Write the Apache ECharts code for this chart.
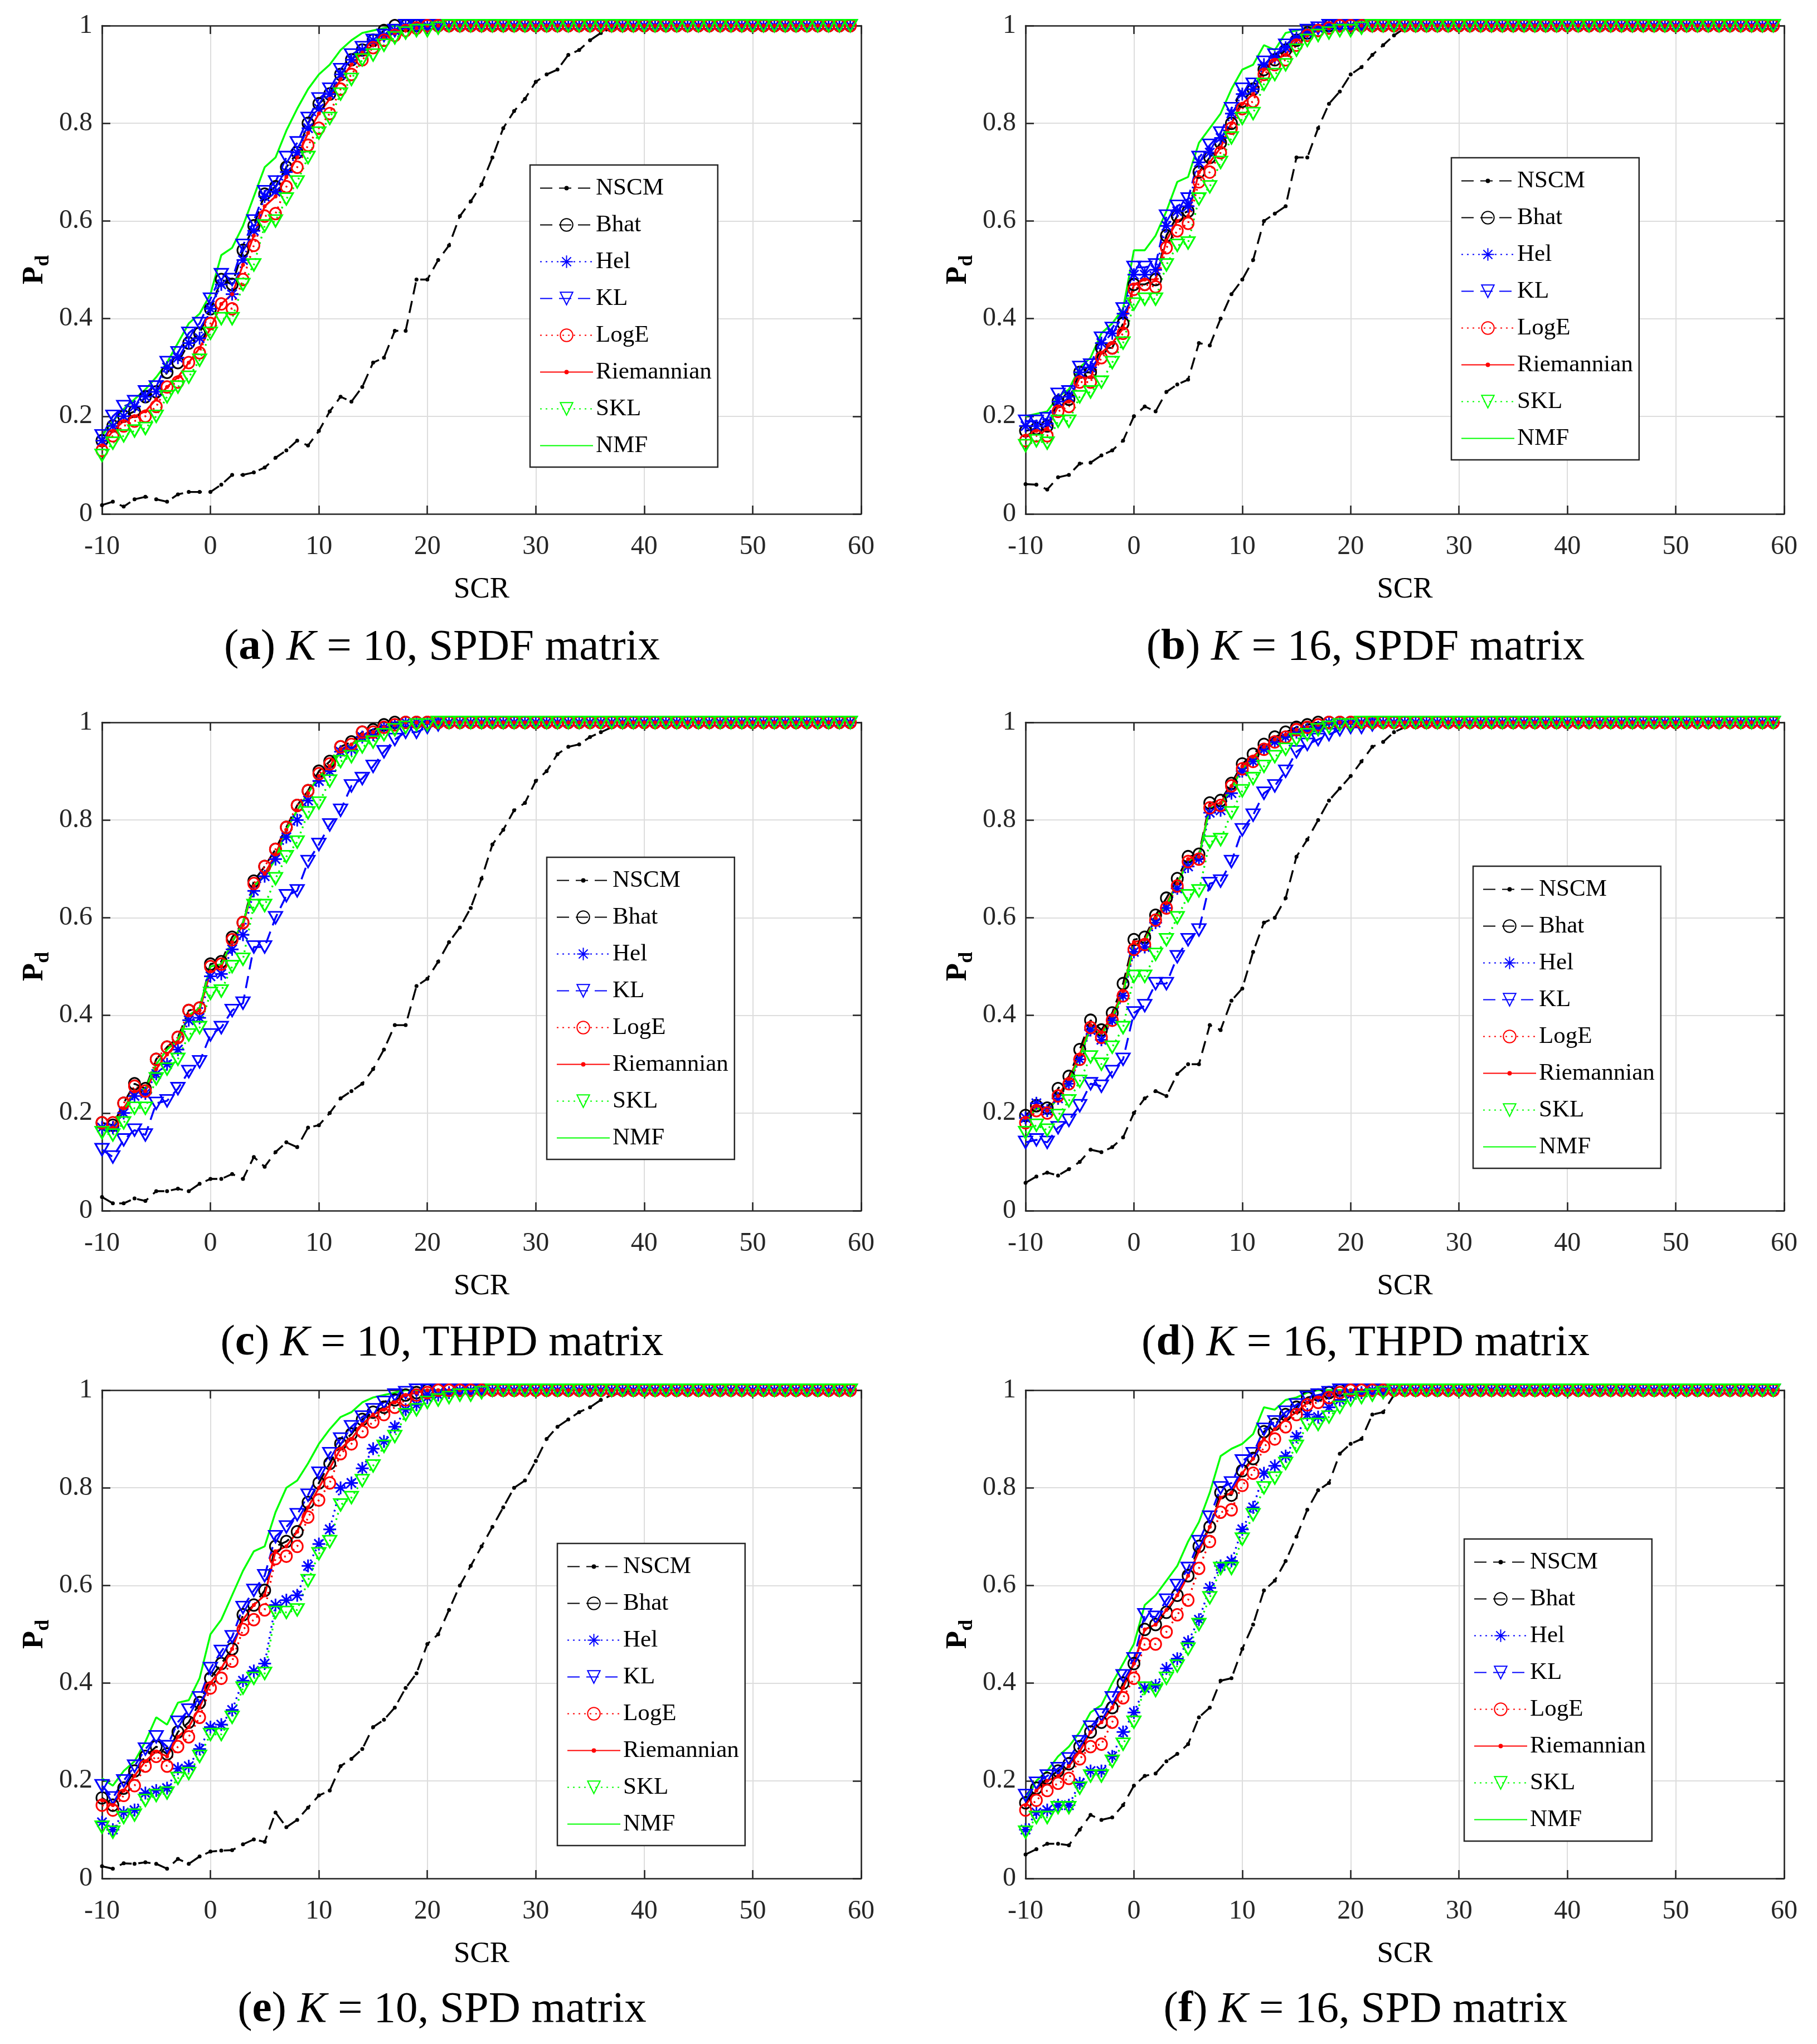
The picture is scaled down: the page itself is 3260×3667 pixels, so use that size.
<!DOCTYPE html>
<html>
<head>
<meta charset="utf-8">
<script src="https://cdn.jsdelivr.net/npm/echarts@6/dist/echarts.min.js"></script>
<style>
  html, body { margin: 0; padding: 0; background: #fff; }
  #chart { width: 3260px; height: 3667px; }
</style>
</head>
<body>
<div id="chart"></div>
<script>
// SCR axis (dB), one sample per integer
const scr = [-10,-9,-8,-7,-6,-5,-4,-3,-2,-1,0,1,2,3,4,5,6,7,8,9,10,11,12,13,14,15,16,17,18,19,20,21,22,23,24,25,26,27,28,29,30,31,32,33,34,35,36,37,38,39,40,41,42,43,44,45,46,47,48,49,50,51,52,53,54,55,56,57,58,59];
const xTicks = [-10, 0, 10, 20, 30, 40, 50, 60];
const yTicks = [0, 0.2, 0.4, 0.6, 0.8, 1];
const methods = ['NSCM', 'Bhat', 'Hel', 'KL', 'LogE', 'Riemannian', 'SKL', 'NMF'];

// (a) K = 10, SPDF
const nscmA = [0.018,0.025,0.015,0.03,0.035,0.03,0.025,0.04,0.045,0.045, 0.045,0.06,0.08,0.08,0.085,0.095,0.115,0.13,0.15,0.14, 0.17,0.21,0.24,0.23,0.26,0.31,0.32,0.375,0.375,0.48, 0.48,0.52,0.55,0.61,0.64,0.675,0.73,0.79,0.825,0.85, 0.885,0.9,0.91,0.94,0.95,0.97,0.985,0.995,1,1, 1,1,1,1,1,1,1,1,1,1, 1,1,1,1,1,1,1,1,1,1];
const bhatA = [0.15,0.18,0.2,0.21,0.24,0.25,0.29,0.31,0.35,0.37, 0.42,0.48,0.47,0.54,0.59,0.655,0.67,0.71,0.74,0.8, 0.84,0.86,0.9,0.93,0.95,0.97,0.99,1,1,1, 1,1,1,1,1,1,1,1,1,1, 1,1,1,1,1,1,1,1,1,1, 1,1,1,1,1,1,1,1,1,1, 1,1,1,1,1,1,1,1,1,1];
const helA = [0.15,0.18,0.2,0.22,0.24,0.25,0.3,0.32,0.35,0.36, 0.42,0.47,0.45,0.52,0.58,0.65,0.66,0.7,0.74,0.79, 0.83,0.86,0.9,0.93,0.95,0.97,0.98,0.99,1,1, 1,1,1,1,1,1,1,1,1,1, 1,1,1,1,1,1,1,1,1,1, 1,1,1,1,1,1,1,1,1,1, 1,1,1,1,1,1,1,1,1,1];
const klA = [0.16,0.2,0.22,0.23,0.25,0.26,0.31,0.33,0.37,0.39, 0.44,0.49,0.48,0.55,0.6,0.66,0.68,0.73,0.76,0.81, 0.85,0.87,0.91,0.94,0.955,0.97,0.98,0.99,1,1, 1,1,1,1,1,1,1,1,1,1, 1,1,1,1,1,1,1,1,1,1, 1,1,1,1,1,1,1,1,1,1, 1,1,1,1,1,1,1,1,1,1];
const logeA = [0.13,0.16,0.18,0.19,0.2,0.22,0.26,0.27,0.31,0.33, 0.39,0.43,0.42,0.48,0.55,0.61,0.615,0.67,0.71,0.755, 0.79,0.82,0.87,0.9,0.93,0.955,0.97,0.98,0.99,0.995, 1,1,1,1,1,1,1,1,1,1, 1,1,1,1,1,1,1,1,1,1, 1,1,1,1,1,1,1,1,1,1, 1,1,1,1,1,1,1,1,1,1];
const riemA = [0.14,0.17,0.19,0.2,0.21,0.235,0.26,0.28,0.31,0.34, 0.38,0.43,0.45,0.51,0.57,0.63,0.65,0.69,0.73,0.78, 0.82,0.85,0.89,0.92,0.945,0.96,0.975,0.985,0.99,0.995, 1,1,1,1,1,1,1,1,1,1, 1,1,1,1,1,1,1,1,1,1, 1,1,1,1,1,1,1,1,1,1, 1,1,1,1,1,1,1,1,1,1];
const sklA = [0.12,0.145,0.16,0.17,0.175,0.2,0.24,0.26,0.28,0.315, 0.37,0.4,0.4,0.47,0.51,0.59,0.6,0.645,0.68,0.73, 0.78,0.81,0.86,0.89,0.93,0.94,0.96,0.975,0.985,0.99, 0.99,0.995,1,1,1,1,1,1,1,1, 1,1,1,1,1,1,1,1,1,1, 1,1,1,1,1,1,1,1,1,1, 1,1,1,1,1,1,1,1,1,1];
const nmfA = [0.16,0.19,0.215,0.235,0.255,0.28,0.31,0.35,0.39,0.41, 0.45,0.53,0.545,0.59,0.65,0.71,0.73,0.785,0.83,0.87, 0.9,0.92,0.95,0.97,0.985,0.99,0.995,1,1,1, 1,1,1,1,1,1,1,1,1,1, 1,1,1,1,1,1,1,1,1,1, 1,1,1,1,1,1,1,1,1,1, 1,1,1,1,1,1,1,1,1,1];

// (b) K = 16, SPDF
const nscmB = [0.061,0.06,0.05,0.075,0.08,0.103,0.105,0.12,0.13,0.15, 0.2,0.22,0.21,0.25,0.265,0.275,0.35,0.345,0.4,0.45, 0.48,0.52,0.6,0.615,0.63,0.73,0.73,0.79,0.84,0.865, 0.9,0.915,0.94,0.96,0.98,0.995,1,1,1,1, 1,1,1,1,1,1,1,1,1,1, 1,1,1,1,1,1,1,1,1,1, 1,1,1,1,1,1,1,1,1,1];
const bhatB = [0.17,0.175,0.18,0.23,0.235,0.29,0.29,0.34,0.34,0.39, 0.47,0.47,0.48,0.57,0.61,0.62,0.7,0.73,0.76,0.8, 0.845,0.87,0.91,0.93,0.95,0.97,0.985,0.99,1,1, 1,1,1,1,1,1,1,1,1,1, 1,1,1,1,1,1,1,1,1,1, 1,1,1,1,1,1,1,1,1,1, 1,1,1,1,1,1,1,1,1,1];
const helB = [0.18,0.18,0.185,0.23,0.24,0.29,0.3,0.35,0.37,0.41, 0.49,0.49,0.5,0.59,0.62,0.63,0.72,0.74,0.77,0.82, 0.86,0.87,0.92,0.935,0.955,0.975,0.985,0.995,1,1, 1,1,1,1,1,1,1,1,1,1, 1,1,1,1,1,1,1,1,1,1, 1,1,1,1,1,1,1,1,1,1, 1,1,1,1,1,1,1,1,1,1];
const klB = [0.19,0.19,0.195,0.245,0.25,0.3,0.305,0.36,0.38,0.42, 0.505,0.505,0.51,0.61,0.63,0.645,0.73,0.755,0.78,0.83, 0.87,0.88,0.925,0.94,0.96,0.98,0.99,0.995,1,1, 1,1,1,1,1,1,1,1,1,1, 1,1,1,1,1,1,1,1,1,1, 1,1,1,1,1,1,1,1,1,1, 1,1,1,1,1,1,1,1,1,1];
const logeB = [0.15,0.16,0.16,0.21,0.22,0.27,0.27,0.32,0.34,0.37, 0.46,0.47,0.465,0.545,0.58,0.595,0.68,0.7,0.74,0.79, 0.83,0.845,0.9,0.92,0.93,0.96,0.98,0.99,0.995,1, 1,1,1,1,1,1,1,1,1,1, 1,1,1,1,1,1,1,1,1,1, 1,1,1,1,1,1,1,1,1,1, 1,1,1,1,1,1,1,1,1,1];
const riemB = [0.16,0.17,0.175,0.22,0.23,0.28,0.28,0.33,0.35,0.38, 0.47,0.48,0.48,0.56,0.6,0.61,0.7,0.72,0.75,0.8, 0.84,0.86,0.91,0.93,0.94,0.97,0.98,0.99,0.995,1, 1,1,1,1,1,1,1,1,1,1, 1,1,1,1,1,1,1,1,1,1, 1,1,1,1,1,1,1,1,1,1, 1,1,1,1,1,1,1,1,1,1];
const sklB = [0.14,0.15,0.145,0.19,0.19,0.24,0.25,0.27,0.31,0.35, 0.43,0.44,0.44,0.51,0.55,0.555,0.645,0.67,0.72,0.77, 0.81,0.82,0.88,0.9,0.92,0.95,0.97,0.98,0.985,0.99, 0.99,0.995,1,1,1,1,1,1,1,1, 1,1,1,1,1,1,1,1,1,1, 1,1,1,1,1,1,1,1,1,1, 1,1,1,1,1,1,1,1,1,1];
const nmfB = [0.2,0.205,0.21,0.24,0.255,0.3,0.32,0.37,0.39,0.42, 0.54,0.54,0.57,0.62,0.68,0.69,0.76,0.79,0.82,0.87, 0.91,0.92,0.96,0.95,0.985,0.99,0.995,1,1,1, 1,1,1,1,1,1,1,1,1,1, 1,1,1,1,1,1,1,1,1,1, 1,1,1,1,1,1,1,1,1,1, 1,1,1,1,1,1,1,1,1,1];

// (c) K = 10, THPD
const nscmC = [0.028,0.015,0.015,0.025,0.02,0.04,0.04,0.045,0.04,0.055, 0.065,0.065,0.075,0.065,0.11,0.09,0.12,0.14,0.13,0.17, 0.175,0.2,0.23,0.245,0.26,0.29,0.33,0.38,0.38,0.46, 0.475,0.51,0.55,0.58,0.62,0.68,0.75,0.78,0.82,0.835, 0.88,0.9,0.935,0.95,0.955,0.97,0.98,0.99,0.995,1, 1,1,1,1,1,1,1,1,1,1, 1,1,1,1,1,1,1,1,1,1];
const bhatC = [0.18,0.175,0.22,0.26,0.25,0.31,0.335,0.355,0.41,0.415, 0.505,0.51,0.56,0.59,0.675,0.705,0.74,0.785,0.83,0.86, 0.9,0.92,0.95,0.96,0.98,0.985,0.995,1,1,1, 1,1,1,1,1,1,1,1,1,1, 1,1,1,1,1,1,1,1,1,1, 1,1,1,1,1,1,1,1,1,1, 1,1,1,1,1,1,1,1,1,1];
const helC = [0.17,0.17,0.2,0.235,0.24,0.28,0.3,0.33,0.39,0.395, 0.48,0.485,0.535,0.565,0.655,0.685,0.72,0.765,0.8,0.84, 0.88,0.9,0.94,0.945,0.97,0.975,0.99,0.995,1,1, 1,1,1,1,1,1,1,1,1,1, 1,1,1,1,1,1,1,1,1,1, 1,1,1,1,1,1,1,1,1,1, 1,1,1,1,1,1,1,1,1,1];
const klC = [0.125,0.11,0.145,0.165,0.155,0.22,0.225,0.25,0.285,0.305, 0.36,0.375,0.41,0.425,0.54,0.54,0.6,0.645,0.655,0.715, 0.75,0.79,0.82,0.87,0.885,0.91,0.94,0.965,0.98,0.98, 0.99,0.995,1,1,1,1,1,1,1,1, 1,1,1,1,1,1,1,1,1,1, 1,1,1,1,1,1,1,1,1,1, 1,1,1,1,1,1,1,1,1,1];
const logeC = [0.18,0.18,0.22,0.255,0.245,0.31,0.335,0.355,0.41,0.415, 0.5,0.505,0.555,0.59,0.67,0.705,0.74,0.785,0.83,0.86, 0.895,0.915,0.95,0.955,0.98,0.98,0.99,0.995,1,1, 1,1,1,1,1,1,1,1,1,1, 1,1,1,1,1,1,1,1,1,1, 1,1,1,1,1,1,1,1,1,1, 1,1,1,1,1,1,1,1,1,1];
const riemC = [0.17,0.17,0.21,0.245,0.245,0.29,0.32,0.345,0.4,0.41, 0.49,0.5,0.55,0.585,0.665,0.69,0.73,0.78,0.82,0.855, 0.89,0.91,0.945,0.955,0.975,0.98,0.99,0.995,1,1, 1,1,1,1,1,1,1,1,1,1, 1,1,1,1,1,1,1,1,1,1, 1,1,1,1,1,1,1,1,1,1, 1,1,1,1,1,1,1,1,1,1];
const sklC = [0.16,0.155,0.18,0.21,0.21,0.27,0.29,0.31,0.36,0.375, 0.445,0.45,0.5,0.515,0.625,0.625,0.68,0.725,0.755,0.815, 0.835,0.88,0.92,0.93,0.95,0.96,0.975,0.985,0.99,0.995, 0.995,1,1,1,1,1,1,1,1,1, 1,1,1,1,1,1,1,1,1,1, 1,1,1,1,1,1,1,1,1,1, 1,1,1,1,1,1,1,1,1,1];
const nmfC = [0.165,0.165,0.205,0.24,0.25,0.3,0.33,0.35,0.4,0.415, 0.5,0.505,0.55,0.59,0.665,0.685,0.72,0.78,0.82,0.855, 0.89,0.905,0.94,0.955,0.965,0.97,0.985,0.995,1,1, 1,1,1,1,1,1,1,1,1,1, 1,1,1,1,1,1,1,1,1,1, 1,1,1,1,1,1,1,1,1,1, 1,1,1,1,1,1,1,1,1,1];

// (d) K = 16, THPD
const nscmD = [0.057,0.07,0.078,0.072,0.085,0.1,0.125,0.12,0.13,0.15, 0.2,0.23,0.245,0.235,0.28,0.3,0.3,0.38,0.37,0.43, 0.455,0.53,0.59,0.6,0.64,0.725,0.76,0.8,0.84,0.865, 0.89,0.92,0.95,0.96,0.98,0.99,0.99,0.995,1,1, 1,1,1,1,1,1,1,1,1,1, 1,1,1,1,1,1,1,1,1,1, 1,1,1,1,1,1,1,1,1,1];
const bhatD = [0.195,0.215,0.21,0.25,0.275,0.33,0.39,0.37,0.405,0.465, 0.555,0.56,0.605,0.64,0.68,0.725,0.73,0.835,0.84,0.875, 0.915,0.935,0.955,0.97,0.98,0.99,0.995,1,1,1, 1,1,1,1,1,1,1,1,1,1, 1,1,1,1,1,1,1,1,1,1, 1,1,1,1,1,1,1,1,1,1, 1,1,1,1,1,1,1,1,1,1];
const helD = [0.19,0.22,0.205,0.23,0.26,0.31,0.37,0.35,0.39,0.44, 0.53,0.54,0.59,0.62,0.66,0.705,0.72,0.815,0.82,0.855, 0.9,0.92,0.945,0.96,0.97,0.98,0.985,0.99,1,1, 1,1,1,1,1,1,1,1,1,1, 1,1,1,1,1,1,1,1,1,1, 1,1,1,1,1,1,1,1,1,1, 1,1,1,1,1,1,1,1,1,1];
const klD = [0.14,0.145,0.14,0.17,0.185,0.215,0.26,0.255,0.285,0.31, 0.405,0.42,0.465,0.465,0.52,0.555,0.575,0.67,0.675,0.715, 0.78,0.81,0.855,0.87,0.9,0.94,0.955,0.965,0.975,0.985, 0.99,0.99,0.995,1,1,1,1,1,1,1, 1,1,1,1,1,1,1,1,1,1, 1,1,1,1,1,1,1,1,1,1, 1,1,1,1,1,1,1,1,1,1];
const logeD = [0.18,0.205,0.2,0.235,0.26,0.31,0.375,0.355,0.39,0.44, 0.535,0.545,0.595,0.62,0.665,0.715,0.72,0.825,0.83,0.87, 0.905,0.92,0.945,0.96,0.97,0.985,0.99,0.995,1,1, 1,1,1,1,1,1,1,1,1,1, 1,1,1,1,1,1,1,1,1,1, 1,1,1,1,1,1,1,1,1,1, 1,1,1,1,1,1,1,1,1,1];
const riemD = [0.19,0.215,0.205,0.235,0.27,0.32,0.38,0.365,0.4,0.45, 0.55,0.555,0.6,0.63,0.67,0.72,0.725,0.83,0.835,0.87, 0.91,0.93,0.95,0.965,0.975,0.985,0.99,0.995,1,1, 1,1,1,1,1,1,1,1,1,1, 1,1,1,1,1,1,1,1,1,1, 1,1,1,1,1,1,1,1,1,1, 1,1,1,1,1,1,1,1,1,1];
const sklD = [0.16,0.175,0.165,0.195,0.225,0.265,0.315,0.3,0.335,0.375, 0.48,0.48,0.525,0.555,0.6,0.645,0.655,0.755,0.76,0.815, 0.86,0.885,0.91,0.93,0.945,0.965,0.975,0.985,0.99,0.995, 0.995,1,1,1,1,1,1,1,1,1, 1,1,1,1,1,1,1,1,1,1, 1,1,1,1,1,1,1,1,1,1, 1,1,1,1,1,1,1,1,1,1];
const nmfD = [0.185,0.21,0.205,0.23,0.265,0.315,0.375,0.36,0.395,0.445, 0.545,0.55,0.6,0.625,0.67,0.715,0.725,0.825,0.83,0.865, 0.905,0.925,0.945,0.965,0.97,0.98,0.985,0.99,0.995,1, 1,1,1,1,1,1,1,1,1,1, 1,1,1,1,1,1,1,1,1,1, 1,1,1,1,1,1,1,1,1,1, 1,1,1,1,1,1,1,1,1,1];

// (e) K = 10, SPD
const nscmE = [0.025,0.02,0.031,0.03,0.033,0.03,0.02,0.04,0.03,0.045, 0.055,0.057,0.058,0.07,0.08,0.075,0.135,0.105,0.12,0.145, 0.17,0.18,0.23,0.245,0.265,0.31,0.325,0.35,0.39,0.42, 0.48,0.5,0.55,0.6,0.64,0.68,0.72,0.76,0.8,0.815, 0.855,0.9,0.925,0.94,0.955,0.965,0.98,0.99,0.995,1, 1,1,1,1,1,1,1,1,1,1, 1,1,1,1,1,1,1,1,1,1];
const bhatE = [0.165,0.15,0.185,0.22,0.25,0.27,0.255,0.3,0.32,0.36, 0.41,0.44,0.47,0.54,0.56,0.59,0.68,0.69,0.71,0.77, 0.81,0.85,0.89,0.91,0.94,0.955,0.965,0.98,0.99,0.995, 1,1,1,1,1,1,1,1,1,1, 1,1,1,1,1,1,1,1,1,1, 1,1,1,1,1,1,1,1,1,1, 1,1,1,1,1,1,1,1,1,1];
const helE = [0.115,0.1,0.135,0.14,0.175,0.18,0.185,0.225,0.23,0.265, 0.31,0.315,0.345,0.405,0.425,0.44,0.56,0.57,0.58,0.64, 0.685,0.715,0.8,0.81,0.84,0.88,0.895,0.925,0.96,0.97, 0.985,0.99,0.995,1,1,1,1,1,1,1, 1,1,1,1,1,1,1,1,1,1, 1,1,1,1,1,1,1,1,1,1, 1,1,1,1,1,1,1,1,1,1];
const klE = [0.19,0.165,0.2,0.23,0.265,0.29,0.27,0.32,0.345,0.37, 0.43,0.465,0.495,0.555,0.59,0.62,0.7,0.72,0.745,0.785, 0.83,0.87,0.9,0.925,0.945,0.96,0.975,0.99,0.995,1, 1,1,1,1,1,1,1,1,1,1, 1,1,1,1,1,1,1,1,1,1, 1,1,1,1,1,1,1,1,1,1, 1,1,1,1,1,1,1,1,1,1];
const logeE = [0.15,0.14,0.17,0.19,0.23,0.25,0.23,0.27,0.29,0.33, 0.39,0.41,0.445,0.51,0.53,0.55,0.655,0.66,0.68,0.74, 0.775,0.81,0.87,0.89,0.915,0.935,0.95,0.965,0.98,0.99, 0.995,1,1,1,1,1,1,1,1,1, 1,1,1,1,1,1,1,1,1,1, 1,1,1,1,1,1,1,1,1,1, 1,1,1,1,1,1,1,1,1,1];
const riemE = [0.16,0.15,0.18,0.21,0.24,0.26,0.25,0.29,0.31,0.35, 0.4,0.43,0.47,0.53,0.56,0.58,0.67,0.68,0.71,0.76, 0.8,0.84,0.88,0.9,0.93,0.95,0.96,0.975,0.99,0.995, 1,1,1,1,1,1,1,1,1,1, 1,1,1,1,1,1,1,1,1,1, 1,1,1,1,1,1,1,1,1,1, 1,1,1,1,1,1,1,1,1,1];
const sklE = [0.105,0.095,0.125,0.13,0.16,0.17,0.175,0.205,0.215,0.25, 0.295,0.295,0.33,0.39,0.41,0.42,0.545,0.545,0.55,0.61, 0.665,0.69,0.765,0.78,0.815,0.845,0.885,0.905,0.95,0.96, 0.975,0.98,0.985,0.99,0.99,0.995,1,1,1,1, 1,1,1,1,1,1,1,1,1,1, 1,1,1,1,1,1,1,1,1,1, 1,1,1,1,1,1,1,1,1,1];
const nmfE = [0.205,0.19,0.22,0.24,0.28,0.33,0.315,0.36,0.365,0.41, 0.5,0.53,0.58,0.63,0.67,0.68,0.75,0.8,0.815,0.85, 0.89,0.92,0.945,0.955,0.975,0.985,0.99,0.995,1,1, 1,1,1,1,1,1,1,1,1,1, 1,1,1,1,1,1,1,1,1,1, 1,1,1,1,1,1,1,1,1,1, 1,1,1,1,1,1,1,1,1,1];

// (f) K = 16, SPD
const nscmF = [0.049,0.06,0.071,0.071,0.068,0.1,0.13,0.12,0.125,0.15, 0.19,0.21,0.215,0.24,0.255,0.275,0.33,0.35,0.405,0.41, 0.47,0.52,0.59,0.61,0.65,0.7,0.755,0.795,0.81,0.87, 0.89,0.9,0.95,0.955,0.99,1,1,1,1,1, 1,1,1,1,1,1,1,1,1,1, 1,1,1,1,1,1,1,1,1,1, 1,1,1,1,1,1,1,1,1,1];
const bhatF = [0.155,0.185,0.205,0.22,0.235,0.27,0.3,0.32,0.35,0.4, 0.44,0.51,0.52,0.545,0.58,0.62,0.68,0.72,0.79,0.785, 0.835,0.86,0.915,0.93,0.95,0.965,0.985,0.99,0.995,1, 1,1,1,1,1,1,1,1,1,1, 1,1,1,1,1,1,1,1,1,1, 1,1,1,1,1,1,1,1,1,1, 1,1,1,1,1,1,1,1,1,1];
const helF = [0.1,0.135,0.14,0.15,0.15,0.195,0.22,0.22,0.25,0.3, 0.34,0.39,0.395,0.43,0.45,0.485,0.53,0.595,0.64,0.65, 0.715,0.76,0.83,0.845,0.865,0.905,0.95,0.945,0.965,0.98, 0.99,0.995,1,1,1,1,1,1,1,1, 1,1,1,1,1,1,1,1,1,1, 1,1,1,1,1,1,1,1,1,1, 1,1,1,1,1,1,1,1,1,1];
const klF = [0.17,0.195,0.21,0.225,0.245,0.28,0.31,0.335,0.37,0.415, 0.45,0.54,0.535,0.57,0.6,0.635,0.69,0.74,0.8,0.81, 0.855,0.87,0.92,0.935,0.955,0.97,0.985,0.99,0.995,1, 1,1,1,1,1,1,1,1,1,1, 1,1,1,1,1,1,1,1,1,1, 1,1,1,1,1,1,1,1,1,1, 1,1,1,1,1,1,1,1,1,1];
const logeF = [0.14,0.16,0.18,0.195,0.205,0.245,0.27,0.275,0.32,0.37, 0.41,0.48,0.48,0.505,0.54,0.57,0.635,0.69,0.75,0.755, 0.805,0.83,0.885,0.9,0.925,0.95,0.97,0.975,0.985,0.995, 1,1,1,1,1,1,1,1,1,1, 1,1,1,1,1,1,1,1,1,1, 1,1,1,1,1,1,1,1,1,1, 1,1,1,1,1,1,1,1,1,1];
const riemF = [0.15,0.18,0.2,0.21,0.23,0.26,0.3,0.32,0.35,0.39, 0.44,0.51,0.52,0.55,0.58,0.62,0.67,0.72,0.78,0.79, 0.83,0.86,0.9,0.92,0.94,0.955,0.975,0.985,0.99,0.995, 1,1,1,1,1,1,1,1,1,1, 1,1,1,1,1,1,1,1,1,1, 1,1,1,1,1,1,1,1,1,1, 1,1,1,1,1,1,1,1,1,1];
const sklF = [0.095,0.125,0.125,0.145,0.145,0.185,0.21,0.21,0.24,0.275, 0.32,0.39,0.385,0.41,0.435,0.47,0.52,0.575,0.635,0.635, 0.695,0.745,0.8,0.82,0.85,0.885,0.93,0.93,0.945,0.965, 0.98,0.985,0.99,0.995,1,1,1,1,1,1, 1,1,1,1,1,1,1,1,1,1, 1,1,1,1,1,1,1,1,1,1, 1,1,1,1,1,1,1,1,1,1];
const nmfF = [0.16,0.2,0.22,0.25,0.27,0.3,0.34,0.355,0.4,0.44, 0.48,0.56,0.58,0.61,0.64,0.69,0.73,0.79,0.865,0.88, 0.89,0.91,0.965,0.96,0.98,0.985,0.995,1,1,1, 1,1,1,1,1,1,1,1,1,1, 1,1,1,1,1,1,1,1,1,1, 1,1,1,1,1,1,1,1,1,1, 1,1,1,1,1,1,1,1,1,1];

const panels = [
  { tag: 'a', k: 10, matrix: 'SPDF', values: [nscmA, bhatA, helA, klA, logeA, riemA, sklA, nmfA], legend: [951, 296] },
  { tag: 'b', k: 16, matrix: 'SPDF', values: [nscmB, bhatB, helB, klB, logeB, riemB, sklB, nmfB], legend: [2604, 283] },
  { tag: 'c', k: 10, matrix: 'THPD', values: [nscmC, bhatC, helC, klC, logeC, riemC, sklC, nmfC], legend: [981, 1538] },
  { tag: 'd', k: 16, matrix: 'THPD', values: [nscmD, bhatD, helD, klD, logeD, riemD, sklD, nmfD], legend: [2643, 1554] },
  { tag: 'e', k: 10, matrix: 'SPD', values: [nscmE, bhatE, helE, klE, logeE, riemE, sklE, nmfE], legend: [1000, 2769] },
  { tag: 'f', k: 16, matrix: 'SPD', values: [nscmF, bhatF, helF, klF, logeF, riemF, sklF, nmfF], legend: [2627, 2761] }
];

// layout (px)
const colLeft = [183, 1840], colRight = [1545, 3201];
const rowTop = [46, 1296, 2494], rowBottom = [922, 2172, 3370];
const captionX = [793, 2450], captionY = [1162, 2410, 3606];

const FONT = '"Liberation Serif", "Times New Roman", serif';
const AX = '#262626';
const LW = 3.4;
const DASH = [22, 12], DOTS = [3, 7];
// small dot inside a larger box so the legend keeps it small
const DOT = 'path://M-10,-10M10,10M-3.5,0A3.5,3.5,0,1,1,3.5,0A3.5,3.5,0,1,1,-3.5,0Z';
const STAR = 'path://M0,-10L0,10M-10,0L10,0M-7.2,-7.2L7.2,7.2M-7.2,7.2L7.2,-7.2';

const styles = {
  NSCM:       { color: '#000000', type: DASH,    symbol: DOT,        size: 20, fill: '#000000', bw: 0 },
  Bhat:       { color: '#000000', type: DASH,    symbol: 'circle',   size: [20, 21] },
  Hel:        { color: '#0000ff', type: DOTS,    symbol: STAR,       size: 23 },
  KL:         { color: '#0000ff', type: DASH,    symbol: 'triangle', size: [24, 21], rotate: 180 },
  LogE:       { color: '#ff0000', type: DOTS,    symbol: 'circle',   size: [20, 21] },
  Riemannian: { color: '#ff0000', type: 'solid', symbol: DOT,        size: 20, fill: '#ff0000', bw: 0 },
  SKL:        { color: '#00ff00', type: DOTS,    symbol: 'triangle', size: [24, 21], rotate: 180 },
  NMF:        { color: '#00ff00', type: 'solid', symbol: 'none',     size: 0 }
};

const grids = [], xAxes = [], yAxes = [], series = [], legends = [], graphics = [];

panels.forEach(function (p, i) {
  const c = i % 2, r = Math.floor(i / 2);
  grids.push({
    left: colLeft[c], top: rowTop[r],
    width: colRight[c] - colLeft[c], height: rowBottom[r] - rowTop[r],
    outerBoundsMode: 'none'
  });
  const tick = { show: true, inside: true, length: 15, lineStyle: { color: AX, width: 2.6 } };
  const line = { show: true, onZero: false, lineStyle: { color: AX, width: 2.6 } };
  xAxes.push({
    type: 'value', gridIndex: i, position: 'bottom',
    min: xTicks[0], max: xTicks[xTicks.length - 1], interval: 10,
    axisLine: line, axisTick: tick,
    axisLabel: { fontFamily: FONT, fontSize: 48, color: AX, margin: 35 },
    splitLine: { show: true, lineStyle: { color: '#dddddd', width: 2 } },
    name: 'SCR', nameLocation: 'middle', nameGap: 110, nameMoveOverlap: false,
    nameTextStyle: { fontFamily: FONT, fontSize: 53, color: '#000' }
  });
  xAxes.push({
    type: 'value', gridIndex: i, position: 'top',
    min: xTicks[0], max: xTicks[xTicks.length - 1], interval: 10,
    axisLine: line, axisTick: tick, axisLabel: { show: false }, splitLine: { show: false }
  });
  yAxes.push({
    type: 'value', gridIndex: i, position: 'left',
    min: yTicks[0], max: yTicks[yTicks.length - 1], interval: 0.2,
    axisLine: line, axisTick: tick,
    axisLabel: { fontFamily: FONT, fontSize: 48, color: AX, margin: 17 },
    splitLine: { show: true, lineStyle: { color: '#dddddd', width: 2 } },
    name: '{p|P}{d|d}', nameLocation: 'middle', nameRotate: 90, nameGap: 94, nameMoveOverlap: false,
    nameTextStyle: {
      fontFamily: FONT, fontSize: 53, fontWeight: 'bold', color: '#000',
      rich: {
        p: { fontFamily: FONT, fontSize: 53, fontWeight: 'bold', color: '#000', lineHeight: 53, verticalAlign: 'top' },
        d: { fontFamily: FONT, fontSize: 36, fontWeight: 'bold', color: '#000', lineHeight: 36, verticalAlign: 'top', padding: [24, 0, 0, 0] }
      }
    }
  });
  yAxes.push({
    type: 'value', gridIndex: i, position: 'right',
    min: yTicks[0], max: yTicks[yTicks.length - 1], interval: 0.2,
    axisLine: line, axisTick: tick, axisLabel: { show: false }, splitLine: { show: false }
  });

  methods.forEach(function (m, j) {
    const st = styles[m];
    series.push({
      name: m, type: 'line',
      xAxisIndex: i * 2, yAxisIndex: i * 2,
      data: scr.map(function (x, k) { return [x, p.values[j][k]]; }),
      symbol: st.symbol, symbolSize: st.size, symbolRotate: st.rotate || 0,
      showSymbol: st.symbol !== 'none', showAllSymbol: true,
      clip: false, silent: true, animation: false,
      lineStyle: { color: st.color, width: LW, type: st.type, cap: 'butt' },
      itemStyle: {
        color: st.fill || 'rgba(0,0,0,0)',
        borderColor: st.color,
        borderWidth: st.bw === undefined ? 3 : st.bw
      },
      emphasis: { disabled: true }
    });
  });

  legends.push({
    orient: 'vertical', left: p.legend[0], top: p.legend[1],
    padding: [20, 11, 17, 17], itemGap: 23,
    itemWidth: 95, itemHeight: 28,
    backgroundColor: '#ffffff', borderColor: AX, borderWidth: 2.5, borderRadius: 0,
    selectedMode: false,
    textStyle: { fontFamily: FONT, fontSize: 43, color: '#000', lineHeight: 43 },
    data: methods.map(function (m) {
      return m === 'NMF'
        ? { name: m, itemStyle: { color: 'rgba(0,0,0,0)', borderColor: 'rgba(0,0,0,0)', borderWidth: 0 } }
        : { name: m };
    })
  });

  const cap = { fontFamily: FONT, fontSize: 79, fill: '#000' };
  graphics.push({
    type: 'text', x: captionX[c], y: captionY[r], silent: true,
    style: {
      text: '({b|' + p.tag + '}) {i|K} = ' + p.k + ', ' + p.matrix + ' matrix',
      fontFamily: FONT, fontSize: 79, fill: '#000',
      align: 'center', verticalAlign: 'middle',
      rich: {
        b: Object.assign({ fontWeight: 'bold' }, cap),
        i: Object.assign({ fontStyle: 'italic' }, cap)
      }
    }
  });
});

const chart = echarts.init(document.getElementById('chart'), null, { renderer: 'canvas' });
chart.setOption({
  animation: false,
  backgroundColor: '#ffffff',
  grid: grids,
  xAxis: xAxes,
  yAxis: yAxes,
  legend: legends,
  series: series,
  graphic: graphics
});
</script>
</body>
</html>
